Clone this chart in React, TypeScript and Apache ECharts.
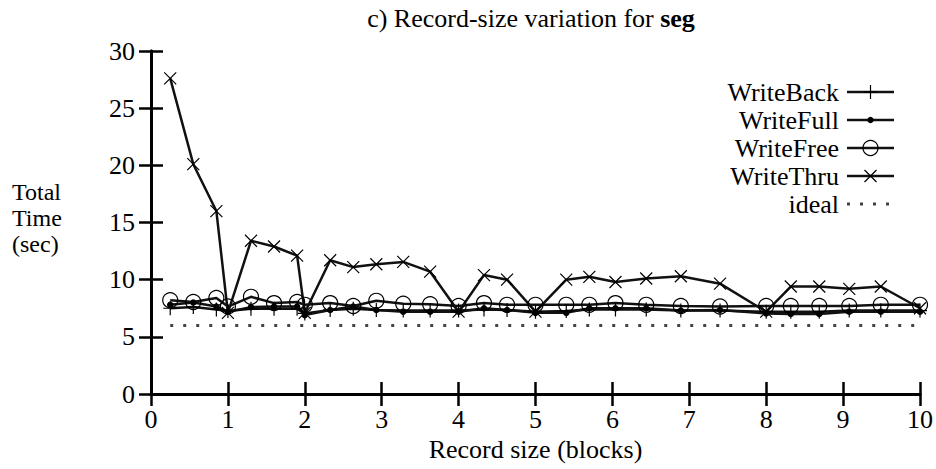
import React, { useEffect, useRef } from "react";
import * as echarts from "echarts";

const xs = [0.25, 0.55, 0.85, 1.0, 1.3, 1.6, 1.9, 2.0, 2.33, 2.63, 2.93, 3.28, 3.63, 4.0, 4.33, 4.63, 5.0, 5.4, 5.7, 6.04, 6.44, 6.89, 7.4, 8.0, 8.32, 8.69, 9.08, 9.49, 10.0];
const writeBack = [7.5, 7.6, 7.4, 7.25, 7.45, 7.45, 7.45, 7.05, 7.35, 7.45, 7.35, 7.3, 7.3, 7.3, 7.4, 7.35, 7.2, 7.25, 7.4, 7.4, 7.4, 7.3, 7.3, 7.2, 7.2, 7.2, 7.3, 7.3, 7.3];
const writeFull = [7.8, 8.0, 7.65, 7.2, 7.6, 7.65, 7.65, 6.9, 7.35, 7.65, 7.35, 7.2, 7.2, 7.2, 7.5, 7.35, 7.1, 7.1, 7.5, 7.5, 7.5, 7.3, 7.35, 7.05, 7.0, 7.0, 7.2, 7.2, 7.2];
const writeFree = [8.2, 8.05, 8.4, 7.65, 8.5, 7.95, 8.05, 7.8, 7.95, 7.7, 8.15, 7.9, 7.85, 7.7, 7.95, 7.8, 7.8, 7.8, 7.8, 7.95, 7.8, 7.7, 7.65, 7.7, 7.7, 7.7, 7.7, 7.8, 7.8];
const writeThru = [27.6, 20.1, 16.0, 7.1, 13.4, 12.9, 12.1, 7.1, 11.7, 11.1, 11.35, 11.55, 10.7, 7.2, 10.4, 10.0, 7.2, 10.0, 10.25, 9.8, 10.1, 10.3, 9.65, 7.2, 9.4, 9.4, 9.2, 9.4, 7.5];
const idealX = [0.25, 10.0];
const idealY = [6.0, 6.0];
const seriesNames = ["WriteBack", "WriteFull", "WriteFree", "WriteThru", "ideal"];
const yLabelLines = ["Total", "Time", "(sec)"];

const FONT = "Liberation Serif";
const FS = 26;
const LINE = "#111";
const PLUS = "path://M5,0L5,10M0,5L10,5";
const CROSS = "path://M0,0L10,10M10,0L0,10";

function pairs(x: number[], y: number[]) {
  return x.map((v, i) => [v, y[i]]);
}

export default function App() {
  const ref = useRef<HTMLDivElement>(null);
  useEffect(() => {
    if (!ref.current) return;
    const chart = echarts.init(ref.current, undefined, { renderer: "svg" });
    const axisLine = { show: true, lineStyle: { color: "#000", width: 3 } };
    const axisTick = { show: true, inside: true, length: 12, lineStyle: { color: "#000", width: 2.5 } };
    const txt = { fontFamily: FONT, fontSize: FS, color: "#000", fontWeight: "normal" as const };
    const baseLine = { color: LINE, width: 2.5 };

    // manual legend
    const legendRows = [92, 120, 148, 176, 204];
    const lx1 = 847, lx2 = 894, lxc = 870.5, ltx = 839;
    const legend: any[] = [];
    seriesNames.forEach((n, i) => {
      const y = legendRows[i];
      legend.push({ type: "text", x: ltx, y, style: { text: n, fontFamily: FONT, fontSize: FS, fill: "#000", textAlign: "right", textVerticalAlign: "middle" } });
      if (i < 4) {
        legend.push({ type: "line", shape: { x1: lx1, y1: y, x2: lx2, y2: y }, style: { stroke: LINE, lineWidth: 2.5 } });
      } else {
        legend.push({ type: "line", shape: { x1: lx1, y1: y, x2: lx2, y2: y }, style: { stroke: "#444", lineWidth: 3, lineDash: [3, 10], lineCap: "butt" } });
      }
      if (i === 0) {
        legend.push({ type: "line", shape: { x1: lxc - 7, y1: y, x2: lxc + 7, y2: y }, style: { stroke: "#000", lineWidth: 1.2 } });
        legend.push({ type: "line", shape: { x1: lxc, y1: y - 7, x2: lxc, y2: y + 7 }, style: { stroke: "#000", lineWidth: 1.2 } });
      } else if (i === 1) {
        legend.push({ type: "circle", shape: { cx: lxc, cy: y, r: 3.2 }, style: { fill: "#000" } });
      } else if (i === 2) {
        legend.push({ type: "circle", shape: { cx: lxc, cy: y, r: 7.5 }, style: { fill: "none", stroke: "#000", lineWidth: 1.2 } });
      } else if (i === 3) {
        legend.push({ type: "line", shape: { x1: lxc - 6, y1: y - 6, x2: lxc + 6, y2: y + 6 }, style: { stroke: "#000", lineWidth: 1.2 } });
        legend.push({ type: "line", shape: { x1: lxc - 6, y1: y + 6, x2: lxc + 6, y2: y - 6 }, style: { stroke: "#000", lineWidth: 1.2 } });
      }
    });

    const yLabel = yLabelLines.map((t, i) => ({
      type: "text", x: 12, y: 192 + i * 26,
      style: { text: t, fontFamily: FONT, fontSize: 24, fill: "#000", textAlign: "left", textVerticalAlign: "middle" },
    }));

    chart.setOption({
      animation: false,
      backgroundColor: "#fff",
      title: {
        text: "{a|c) Record-size variation for }{b|seg}",
        left: 526,
        top: 0,
        textAlign: "center",
        textStyle: {
          fontWeight: "normal",
          fontFamily: FONT,
          fontSize: FS,
          rich: {
            a: { fontFamily: FONT, fontSize: FS, color: "#000", fontWeight: "normal" },
            b: { fontFamily: FONT, fontSize: FS, color: "#000", fontWeight: "bold" },
          },
        },
      },
      grid: { left: 151, right: 16, top: 51, bottom: 75 },
      xAxis: [
        {
          type: "value", min: 0, max: 10, interval: 1, position: "bottom",
          axisLine, axisTick, splitLine: { show: false },
          axisLabel: { ...txt, margin: 12 },
          name: "Record size (blocks)", nameLocation: "middle", nameGap: 40,
          nameTextStyle: txt,
        },
        {
          type: "value", min: 0, max: 10, interval: 1, position: "top",
          axisLine, axisTick, splitLine: { show: false }, axisLabel: { show: false },
        },
      ],
      yAxis: [
        {
          type: "value", min: 0, max: 30, interval: 5, position: "left",
          axisLine, axisTick, splitLine: { show: false },
          axisLabel: { ...txt, margin: 16 },
        },
        {
          type: "value", min: 0, max: 30, interval: 5, position: "right",
          axisLine, axisTick, splitLine: { show: false }, axisLabel: { show: false },
        },
      ],
      graphic: [...yLabel, ...legend],
      series: [
        {
          name: seriesNames[0], type: "line", data: pairs(xs, writeBack),
          symbol: PLUS, symbolSize: 14, lineStyle: baseLine,
          itemStyle: { color: "#000", borderColor: "#000", borderWidth: 1.2 },
        },
        {
          name: seriesNames[1], type: "line", data: pairs(xs, writeFull),
          symbol: "circle", symbolSize: 6.5, lineStyle: baseLine,
          itemStyle: { color: "#000", borderWidth: 0 },
        },
        {
          name: seriesNames[2], type: "line", data: pairs(xs, writeFree),
          symbol: "circle", symbolSize: 15, lineStyle: baseLine,
          itemStyle: { color: "rgba(0,0,0,0)", borderColor: "#000", borderWidth: 1.2 },
        },
        {
          name: seriesNames[3], type: "line", data: pairs(xs, writeThru),
          symbol: CROSS, symbolSize: 12, lineStyle: baseLine,
          itemStyle: { color: "#000", borderColor: "#000", borderWidth: 1.2 },
        },
        {
          name: seriesNames[4], type: "line", data: pairs(idealX, idealY),
          symbol: "none", lineStyle: { color: "#444", width: 3, type: [3, 10] },
        },
      ],
    });
    return () => chart.dispose();
  }, []);
  return <div ref={ref} style={{ width: 936, height: 469, position: "absolute", left: 0, top: 0 }} />;
}
